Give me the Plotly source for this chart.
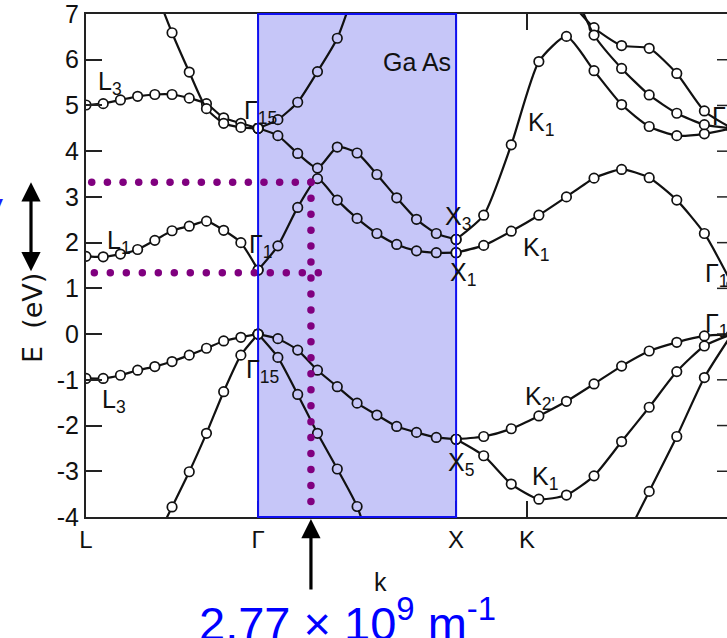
import numpy as np
import plotly.graph_objects as go

# ---------------- data ----------------
# positions of the high-symmetry points along the k path (units of 2*pi/a)
k_L, k_G, k_X, k_K, k_G2 = 0.0, 0.869, 1.869, 2.227, 3.262
x_max = 3.237
E_min, E_max = -4.0, 7.0

sym_vals = [k_L, k_G, k_X, k_K]
sym_text = ["L", "Γ", "X", "K"]
E_ticks = list(range(-4, 8))
E_ticktext = [str(v) for v in E_ticks]

# L -> Gamma (11 sampled points each)
LG_L3c = [5.01, 5.04, 5.12, 5.20, 5.24, 5.24, 5.16, 5.04, 4.73, 4.61, 4.50]
LG_steep_c = [None, None, None, None, 7.55, 6.59, 5.73, 4.93, 4.61, 4.52, 4.50]
LG_L1c = [1.70, 1.69, 1.75, 1.85, 2.05, 2.26, 2.36, 2.47, 2.27, 2.00, 1.40]
LG_L3v = [-0.97, -0.97, -0.90, -0.79, -0.71, -0.60, -0.46, -0.31, -0.15, -0.07, 0.0]
LG_low_v = [None, None, None, None, -4.55, -3.78, -3.01, -2.17, -1.26, -0.46, 0.0]

# Gamma -> X
GX_up_c = [4.50, 4.69, 5.07, 5.74, 6.47, 7.70, None, None, None, None, None]
GX_X3c = [4.50, 4.34, 3.95, 3.63, 4.09, 3.96, 3.49, 2.98, 2.51, 2.20, 2.07]
GX_X1c = [1.40, 1.93, 2.77, 3.40, 2.93, 2.53, 2.20, 1.96, 1.82, 1.78, 1.78]
GX_X5v = [0.0, -0.10, -0.35, -0.79, -1.15, -1.51, -1.77, -2.02, -2.15, -2.26, -2.30]
GX_low_v = [0.0, -0.51, -1.32, -2.17, -2.95, -3.77, -5.10, None, None, None, None]

# X -> K -> Gamma
XG_K1c_up = [2.07, 2.60, 4.14, 5.96, 6.51, 5.76, 5.02, 4.54, 4.34, 4.38, 4.50]
XG_K1c_low = [1.78, 1.94, 2.25, 2.60, 3.00, 3.41, 3.60, 3.42, 2.93, 2.20, 1.10]
XG_top_a = [None, None, None, None, 7.37, 6.70, 6.31, 6.25, 5.70, 4.88, 4.50]
XG_top_b = [None, None, None, None, 7.90, 6.54, 5.81, 5.23, 4.83, 4.58, 4.50]
XG_K2v = [-2.30, -2.24, -2.07, -1.79, -1.47, -1.09, -0.70, -0.37, -0.18, -0.04, 0.0]
XG_K1v = [-2.30, -2.66, -3.28, -3.61, -3.52, -3.10, -2.35, -1.60, -0.82, -0.26, 0.0]
XG_low_v = [None, None, None, None, None, None, -4.64, -3.44, -2.24, -0.95, 0.0]

# energy-gap guide lines and the marked wave vector
gap_top, gap_bottom = 3.32, 1.34
k_mark = 1.136
vert_end = -3.66
mark_label = "2.77 × 10<sup>9</sup> m<sup>-1</sup>"

# ---------------- styling ----------------
FONT = "Liberation Sans"
BLUE_FILL = "#C6C6F8"
L_PX, R_PX, T_PX, B_PX = 86, 727, 14, 517
W, H = 727, 638

def px2paper(xp, yp):
    return (xp - L_PX) / (R_PX - L_PX), (B_PX - yp) / (B_PX - T_PX)

fig = go.Figure()

segments = [
    (k_L, k_G, [LG_L3c, LG_steep_c, LG_L1c, LG_L3v, LG_low_v]),
    (k_G, k_X, [GX_up_c, GX_X3c, GX_X1c, GX_X5v, GX_low_v]),
    (k_X, k_G2, [XG_K1c_up, XG_K1c_low, XG_top_a, XG_top_b, XG_K2v, XG_K1v, XG_low_v]),
]
for k0, k1, bands in segments:
    kk = np.linspace(k0, k1, 11)
    fills = ["white" if (k <= k_G + 1e-6 or k >= k_X - 1e-6) else BLUE_FILL for k in kk]
    for band in bands:
        fig.add_trace(go.Scatter(
            x=kk, y=band, mode="lines+markers",
            line=dict(color="#111111", width=2.2, shape="spline", smoothing=0.6),
            marker=dict(size=9.5, color=fills, line=dict(color="#111111", width=1.7)),
            hoverinfo="skip", connectgaps=False))

# purple dotted guides
dot_style = dict(size=7.5, color="#80007F")
fig.add_trace(go.Scatter(x=np.linspace(0.029, k_mark, 15), y=[gap_top] * 15,
                         mode="markers", marker=dot_style, hoverinfo="skip"))
fig.add_trace(go.Scatter(x=np.linspace(0.042, 1.173, 15), y=[gap_bottom] * 15,
                         mode="markers", marker=dot_style, hoverinfo="skip"))
fig.add_trace(go.Scatter(x=[k_mark] * 21, y=np.linspace(gap_top, vert_end, 21),
                         mode="markers", marker=dot_style, hoverinfo="skip"))

shapes = [
    dict(type="rect", xref="x", yref="paper", x0=k_G, x1=k_X, y0=0, y1=1,
         fillcolor=BLUE_FILL, line=dict(width=0), layer="below"),
    dict(type="rect", xref="x", yref="paper", x0=k_G, x1=k_X, y0=0, y1=1,
         fillcolor="rgba(0,0,0,0)", line=dict(color="#1010F0", width=2), layer="above"),
]
for v in range(-3, 7):
    shapes.append(dict(type="line", xref="paper", yref="y", x0=1 - 10 / 641, x1=1,
                       y0=v, y1=v, line=dict(color="#222", width=1.5)))

annotations = []

def lab(text, xp, yp, size=25, xanchor="left", color="#111", family=FONT, **kw):
    px, py = px2paper(xp, yp)
    annotations.append(dict(text=text, x=px, y=py, xref="paper", yref="paper",
                            xanchor=xanchor, yanchor="middle", showarrow=False,
                            font=dict(family=family, size=size, color=color), **kw))

labels = [
    ("L<sub>3</sub>", 96, 83), ("L<sub>1</sub>", 105, 242), ("L<sub>3</sub>", 100, 401),
    ("Γ<sub>15</sub>", 242, 112), ("Γ<sub>1</sub>", 247, 246), ("Γ<sub>15</sub>", 244, 371),
    ("X<sub>3</sub>", 443, 218), ("X<sub>1</sub>", 448, 274), ("X<sub>5</sub>", 446, 464),
    ("K<sub>1</sub>", 526, 124), ("K<sub>1</sub>", 521, 249), ("K<sub>2'</sub>", 523, 398),
    ("K<sub>1</sub>", 530, 478), ("Γ<sub>15'</sub>", 710, 118), ("Γ<sub>1</sub>", 703, 275),
    ("Γ<sub>15'</sub>", 703, 325),
]
for t, xp, yp in labels:
    lab(t, xp, yp)
lab("Ga As", 417, 62, size=25, xanchor="center")
lab("k", 380, 582, size=25, xanchor="center")
lab("E&nbsp;&nbsp;(eV)", 32, 318, size=27, xanchor="center", textangle=-90,
    family="DejaVu Sans")
lab("V", 5, 208, size=30, xanchor="right", color="#1a1aff")
lab(mark_label, 347, 620, size=47, xanchor="center", color="#0000FF")

# arrows
ax0, _ = px2paper(31, 0)
annotations.append(dict(x=ax0, y=gap_top, xref="paper", yref="y", ax=0, ay=gap_bottom,
                        axref="pixel", ayref="y", text="", showarrow=True,
                        arrowhead=2, arrowsize=1.2, arrowwidth=3.2, arrowcolor="black",
                        arrowside="end+start"))
annotations.append(dict(x=k_mark, y=-0.004, xref="x", yref="paper", ax=0, ay=72,
                        text="", showarrow=True, arrowhead=2, arrowsize=1.2,
                        arrowwidth=3.2, arrowcolor="black"))

fig.update_layout(
    width=W, height=H, margin=dict(l=L_PX, r=W - R_PX, t=T_PX, b=H - B_PX),
    plot_bgcolor="white", paper_bgcolor="white", showlegend=False,
    shapes=shapes, annotations=annotations,
    xaxis=dict(range=[0, x_max], showgrid=False, zeroline=False, showline=True,
               linecolor="#222", linewidth=2, mirror="ticks", ticks="inside",
               ticklen=16, tickwidth=1.5, tickcolor="#222", tickvals=sym_vals,
               ticktext=sym_text, ticklabeloverflow="allow",
               tickfont=dict(family=FONT, size=24, color="#111")),
    yaxis=dict(range=[E_min, E_max], showgrid=False, zeroline=False, showline=True,
               linecolor="#222", linewidth=2, ticks="inside", ticklen=16,
               tickwidth=1.5, tickcolor="#222", tickvals=E_ticks, ticktext=E_ticktext,
               ticklabeloverflow="allow",
               tickfont=dict(family=FONT, size=25, color="#111")),
)

fig.write_html("out.html")
